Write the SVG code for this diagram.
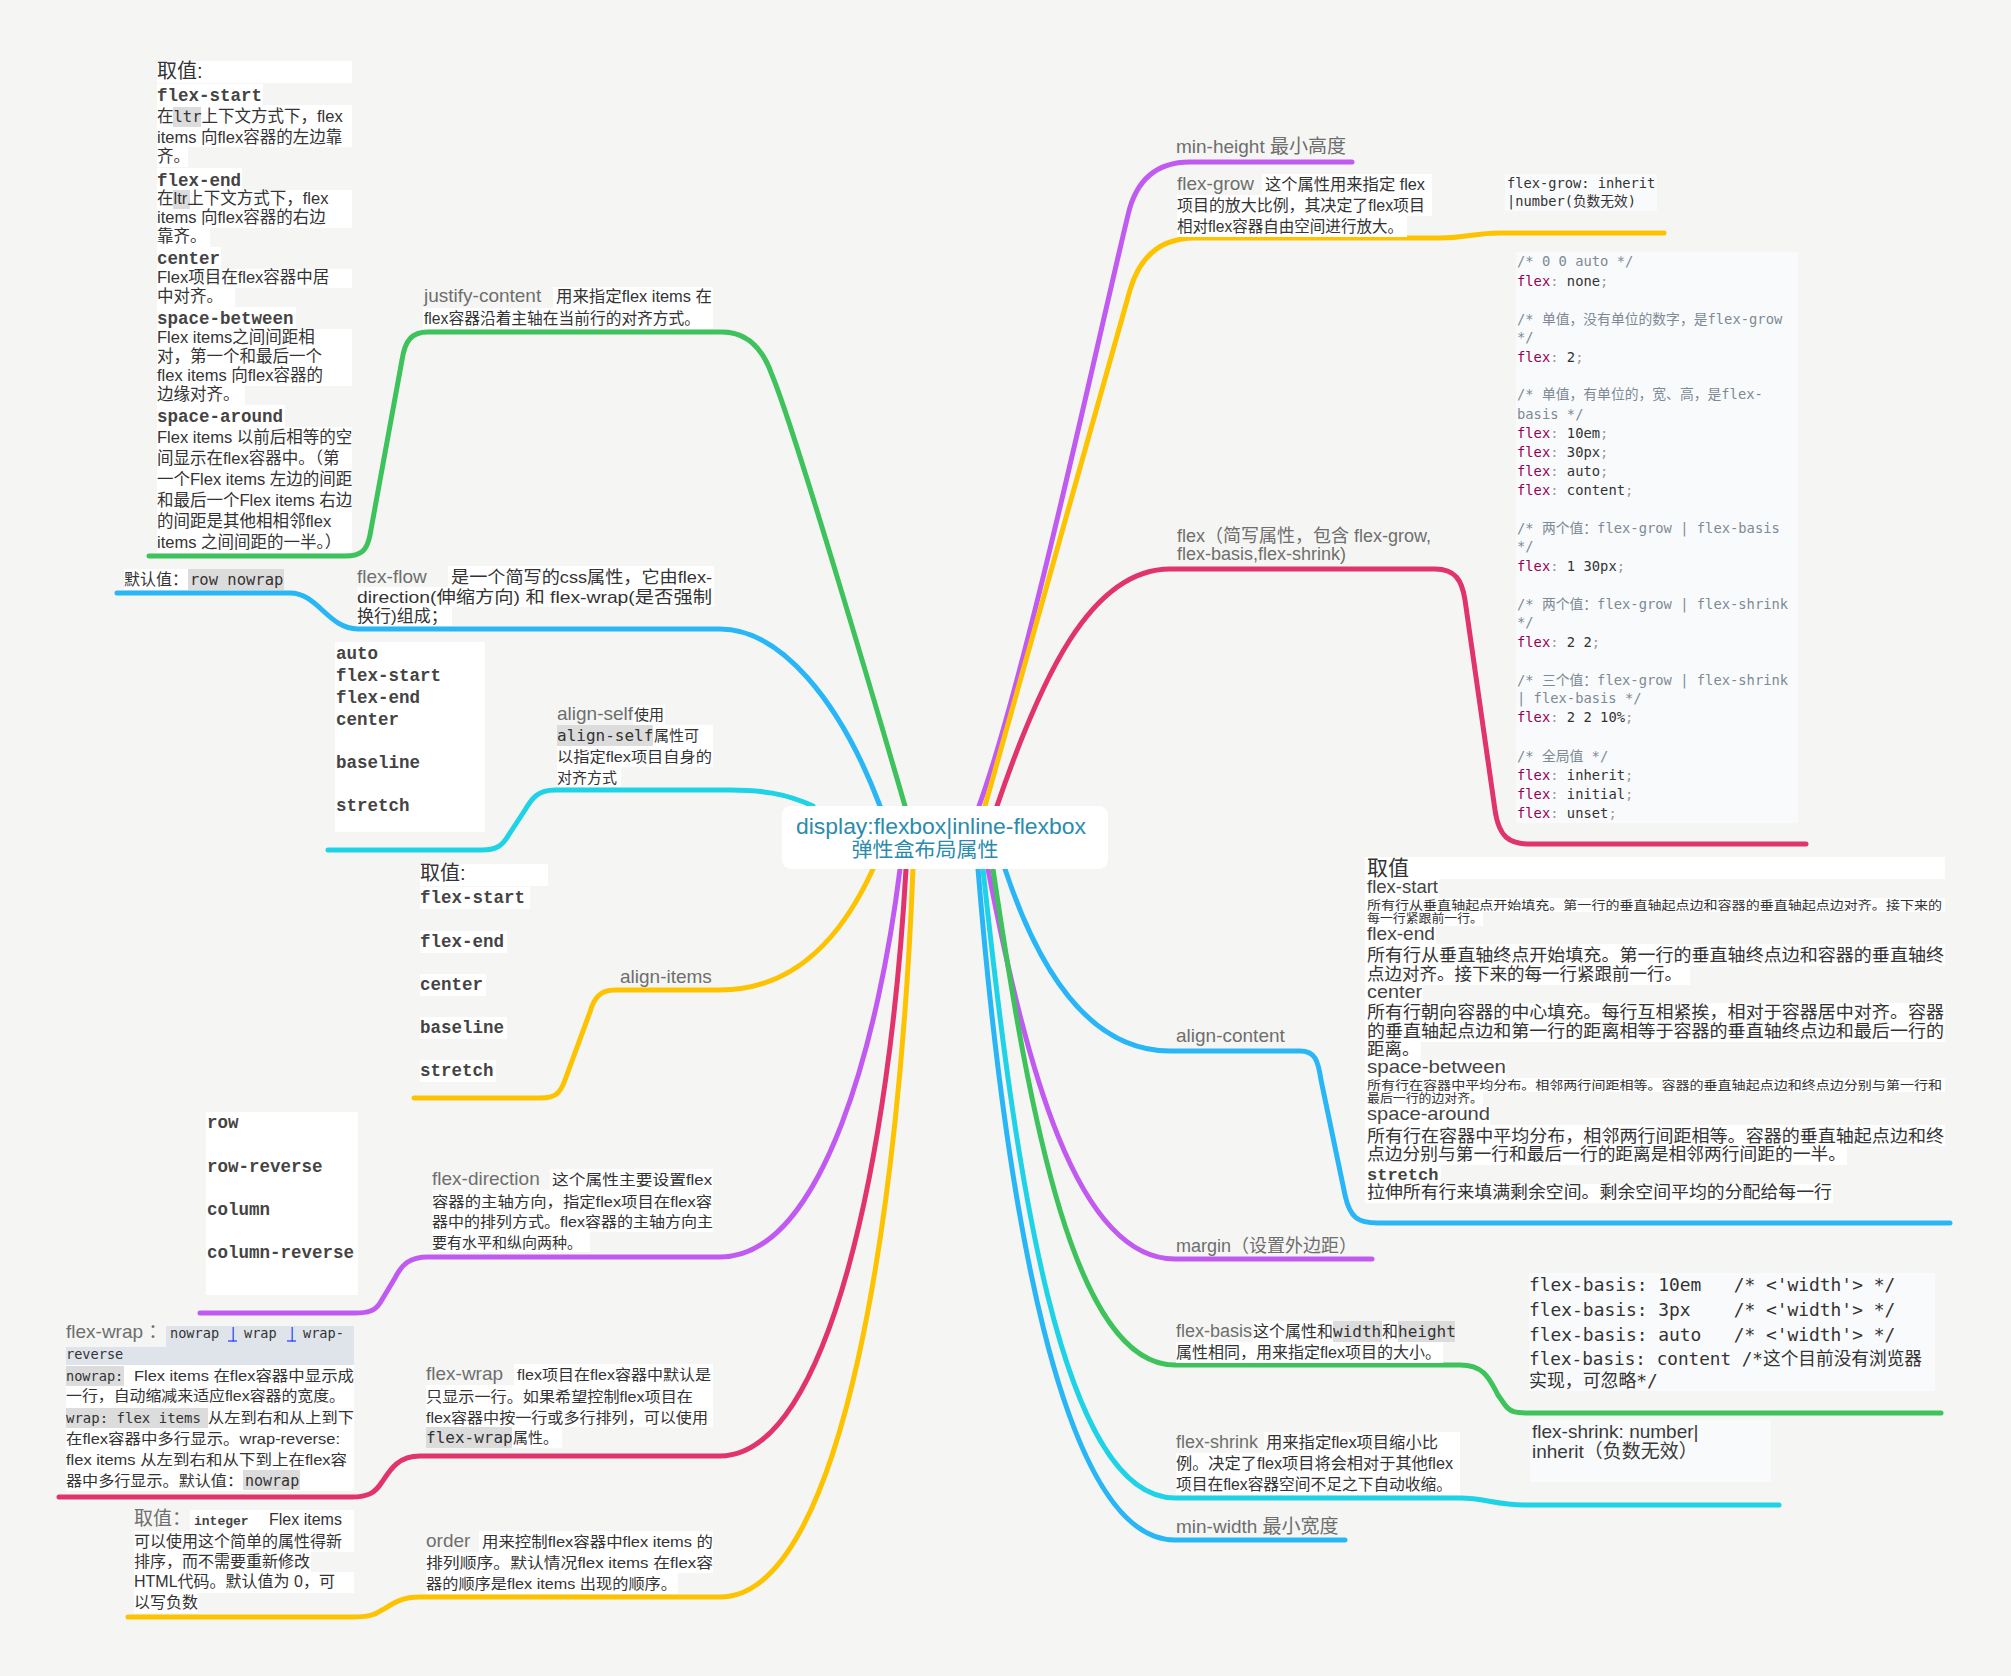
<svg xmlns="http://www.w3.org/2000/svg" width="2011" height="1676" viewBox="0 0 2011 1676">
<style>
text{font-family:"Liberation Sans","Noto Sans CJK SC",sans-serif}
.lb{font-size:19px;fill:#6e6e6e}
.t{font-size:16px;fill:#333}
.s15{font-size:15px}
.mo{font-family:"DejaVu Sans Mono","Noto Sans CJK SC",monospace;fill:#333}
.mb{font-family:"Liberation Mono","Courier New",monospace;font-weight:bold;font-size:17.5px;fill:#444}
.w{fill:#fff}
.g{fill:#dcdcdc}
.cb{fill:#f9fafb}
.kw{fill:#990055}
.cm{fill:#7d8a96}
.pu{fill:#999}
.ach{font-size:19px;fill:#444}
.acb{font-size:17.5px;fill:#333}
.acs{font-size:12.5px;fill:#333}
.c{fill:none;stroke-width:5;stroke-linecap:round;stroke-linejoin:round}
</style>
<rect width="2011" height="1676" fill="#f5f6f3"/>

<g id="connectors">
<path class="c" stroke="#3ec25c" d="M905 806 C880 720 795 430 772 375 Q757 332 722 332 L428 332 C412 332 405 340 402 360 L370 535 C367 550 362 556 345 556 L149 556"/>
<path class="c" stroke="#29b6f6" d="M880 806 C840 700 780 629 720 629 L358 629 C328 629 318 593 290 593 L117 593"/>
<path class="c" stroke="#1fd3e6" d="M813 806 C785 793 760 790 730 790 L555 790 C538 790 532 798 525 810 L508 836 C502 846 496 850 482 850 L328 850"/>
<path class="c" stroke="#fdc300" d="M873 869 C845 930 800 990 720 990 L615 990 C600 990 594 998 590 1012 L565 1080 C560 1094 555 1098 540 1098 L414 1098"/>
<path class="c" stroke="#c15af0" d="M900 869 C880 1030 825 1257 720 1257 L428 1257 C410 1257 402 1264 395 1278 L380 1303 C375 1311 368 1313 355 1313 L200 1313"/>
<path class="c" stroke="#e1336c" d="M906 869 C890 1150 830 1456 720 1456 L420 1456 C398 1456 390 1470 382 1482 C375 1493 368 1497 352 1497 L59 1497"/>
<path class="c" stroke="#fdc300" d="M913 869 C900 1200 845 1597 720 1597 L420 1597 C398 1597 390 1606 382 1610 C375 1615 368 1617 352 1617 L128 1617"/>
<path class="c" stroke="#c15af0" d="M979 806 C1025 680 1100 330 1128 215 Q1140 162 1190 162 L1352 162"/>
<path class="c" stroke="#fdc300" d="M985 806 C1020 680 1105 380 1130 290 Q1145 238 1195 238 L1440 238 C1465 238 1475 233 1500 233 L1664 233"/>
<path class="c" stroke="#e1336c" d="M997 806 C1040 680 1090 569 1170 569 L1435 569 C1455 569 1462 580 1465 600 L1495 810 C1499 838 1510 844 1530 844 L1806 844"/>
<path class="c" stroke="#29b6f6" d="M1005 869 C1035 960 1085 1051 1170 1051 L1300 1051 C1315 1051 1318 1060 1321 1080 L1345 1195 C1350 1218 1358 1223 1378 1223 L1950 1223"/>
<path class="c" stroke="#c15af0" d="M988 869 C1025 1060 1075 1259 1175 1259 L1372 1259"/>
<path class="c" stroke="#3ec25c" d="M993 869 C1030 1120 1075 1365 1175 1365 L1460 1365 C1485 1365 1490 1380 1498 1395 L1505 1405 C1510 1412 1515 1413 1530 1413 L1941 1413"/>
<path class="c" stroke="#1fd3e6" d="M983 869 C1015 1170 1060 1498 1175 1498 L1460 1498 C1485 1498 1495 1505 1525 1505 L1779 1505"/>
<path class="c" stroke="#29b6f6" d="M978 869 C1005 1200 1060 1540 1175 1540 L1345 1540"/>
</g>

<g id="center">
<rect x="782" y="806" width="326" height="63" rx="9" fill="#fff"/>
<text x="941" y="834" text-anchor="middle" font-size="22" fill="#2b8bad" textLength="290" lengthAdjust="spacingAndGlyphs">display:flexbox|inline-flexbox</text>
<text x="925" y="857" text-anchor="middle" font-size="20" fill="#2b8bad" textLength="147" lengthAdjust="spacingAndGlyphs">弹性盒布局属性</text>
</g>

<g id="jc-values">
<rect class="w" x="157" y="61" width="195" height="22"/>
<rect class="w" x="157" y="84" width="106" height="21"/>
<rect class="w" x="157" y="105" width="195" height="42"/>
<rect class="w" x="157" y="147" width="31" height="20"/>
<rect class="w" x="157" y="168" width="85" height="22"/>
<rect class="w" x="157" y="190" width="195" height="38"/>
<rect class="w" x="157" y="228" width="53" height="19"/>
<rect class="w" x="157" y="247" width="64" height="22"/>
<rect class="w" x="157" y="269" width="195" height="19"/>
<rect class="w" x="157" y="288" width="78" height="19"/>
<rect class="w" x="157" y="307" width="139" height="22"/>
<rect class="w" x="157" y="329" width="195" height="57"/>
<rect class="w" x="157" y="386" width="88" height="19"/>
<rect class="w" x="157" y="405" width="128" height="22"/>
<rect class="w" x="157" y="427" width="195" height="126"/>
<rect class="g" x="173" y="107" width="28" height="20"/>
<rect class="g" x="173" y="190" width="17" height="19"/>
<text class="t" x="157" y="78" style="font-size:20px">取值:</text>
<text class="mb" x="157" y="101">flex-start</text>
<text class="t" x="157" y="122" style="font-size:16.5px">在<tspan class="mo" style="font-size:15.5px">ltr</tspan>上下文方式下，flex</text>
<text class="t" x="157" y="143" style="font-size:16.5px">items 向flex容器的左边靠</text>
<text class="t" x="157" y="162" style="font-size:16.5px">齐。</text>
<text class="mb" x="157" y="186">flex-end</text>
<text class="t" x="157" y="204" style="font-size:16.5px">在ltr上下文方式下，flex</text>
<text class="t" x="157" y="223" style="font-size:16.5px">items 向flex容器的右边</text>
<text class="t" x="157" y="242" style="font-size:16.5px">靠齐。</text>
<text class="mb" x="157" y="264">center</text>
<text class="t" x="157" y="283" style="font-size:16.5px">Flex项目在flex容器中居</text>
<text class="t" x="157" y="302" style="font-size:16.5px">中对齐。</text>
<text class="mb" x="157" y="324">space-between</text>
<text class="t" x="157" y="343" style="font-size:16.5px">Flex items之间间距相</text>
<text class="t" x="157" y="362" style="font-size:16.5px">对，第一个和最后一个</text>
<text class="t" x="157" y="381" style="font-size:16.5px">flex items 向flex容器的</text>
<text class="t" x="157" y="400" style="font-size:16.5px">边缘对齐。</text>
<text class="mb" x="157" y="422">space-around</text>
<text class="t" x="157" y="443" style="font-size:16.5px">Flex items 以前后相等的空</text>
<text class="t" x="157" y="464" style="font-size:16.5px">间显示在flex容器中。（第</text>
<text class="t" x="157" y="485" style="font-size:16.5px">一个Flex items 左边的间距</text>
<text class="t" x="157" y="506" style="font-size:16.5px">和最后一个Flex items 右边</text>
<text class="t" x="157" y="527" style="font-size:16.5px">的间距是其他相相邻flex</text>
<text class="t" x="157" y="548" style="font-size:16.5px">items 之间间距的一半。）</text>
</g>

<g id="justify-content">
<rect class="w" x="553" y="287" width="160" height="21"/>
<rect class="w" x="423" y="308" width="290" height="21"/>
<text class="lb" x="424" y="302">justify-content</text>
<text class="t" x="556" y="302" textLength="156" lengthAdjust="spacingAndGlyphs">用来指定flex items 在</text>
<text class="t" x="424" y="324" textLength="276" lengthAdjust="spacingAndGlyphs">flex容器沿着主轴在当前行的对齐方式。</text>
</g>

<g id="flex-flow">
<rect class="w" x="448" y="566" width="266" height="21"/>
<rect class="w" x="357" y="587" width="357" height="20"/>
<rect class="w" x="357" y="607" width="95" height="19"/>
<text class="lb" x="357" y="583">flex-flow</text>
<text class="t" x="451" y="583" style="font-size:17px" textLength="261" lengthAdjust="spacingAndGlyphs">是一个简写的css属性，它由flex-</text>
<text class="t" x="357" y="603" style="font-size:17px" textLength="355" lengthAdjust="spacingAndGlyphs">direction(伸缩方向) 和 flex-wrap(是否强制</text>
<text class="t" x="357" y="622" style="font-size:17px">换行)组成；</text>
</g>

<g id="flex-flow-default">
<rect class="w" x="124" y="569" width="64" height="21"/>
<rect class="g" x="188" y="569" width="96" height="21"/>
<text class="t" x="124" y="585">默认值：</text>
<text class="mo" x="190" y="585" style="font-size:15.5px">row nowrap</text>
</g>

<g id="align-self">
<rect class="w" x="633" y="705" width="32" height="20"/>
<rect class="g" x="557" y="725" width="96" height="21"/>
<rect class="w" x="653" y="725" width="60" height="21"/>
<rect class="w" x="557" y="746" width="156" height="21"/>
<rect class="w" x="557" y="767" width="64" height="20"/>
<text class="lb" x="557" y="720">align-self</text>
<text class="t s15" x="634" y="720">使用</text>
<text class="mo" x="557" y="741" style="font-size:16px">align-self</text>
<text class="t s15" x="654" y="741">属性可</text>
<text class="t s15" x="557" y="762" textLength="155" lengthAdjust="spacingAndGlyphs">以指定flex项目自身的</text>
<text class="t s15" x="557" y="783">对齐方式</text>
</g>

<g id="align-self-values">
<rect class="w" x="335" y="642" width="150" height="190"/>
<text class="mb" x="336" y="659">auto</text>
<text class="mb" x="336" y="681">flex-start</text>
<text class="mb" x="336" y="703">flex-end</text>
<text class="mb" x="336" y="725">center</text>
<text class="mb" x="336" y="768">baseline</text>
<text class="mb" x="336" y="811">stretch</text>
</g>

<g id="align-items">
<text class="lb" x="620" y="983">align-items</text>
</g>

<g id="align-items-values">
<rect class="w" x="420" y="864" width="128" height="22"/>
<rect class="w" x="420" y="887" width="110" height="22"/>
<rect class="w" x="420" y="931" width="87" height="22"/>
<rect class="w" x="420" y="974" width="66" height="22"/>
<rect class="w" x="420" y="1017" width="87" height="22"/>
<rect class="w" x="420" y="1060" width="76" height="22"/>
<text class="t" x="420" y="880" style="font-size:20px">取值:</text>
<text class="mb" x="420" y="903">flex-start</text>
<text class="mb" x="420" y="947">flex-end</text>
<text class="mb" x="420" y="990">center</text>
<text class="mb" x="420" y="1033">baseline</text>
<text class="mb" x="420" y="1076">stretch</text>
</g>

<g id="flex-direction">
<rect class="w" x="550" y="1169" width="163" height="21"/>
<rect class="w" x="432" y="1190" width="281" height="42"/>
<rect class="w" x="432" y="1232" width="158" height="20"/>
<text class="lb" x="432" y="1185">flex-direction</text>
<text class="t s15" x="552" y="1185" textLength="160" lengthAdjust="spacingAndGlyphs">这个属性主要设置flex</text>
<text class="t s15" x="432" y="1207" textLength="280" lengthAdjust="spacingAndGlyphs">容器的主轴方向，指定flex项目在flex容</text>
<text class="t s15" x="432" y="1227" textLength="281" lengthAdjust="spacingAndGlyphs">器中的排列方式。flex容器的主轴方向主</text>
<text class="t s15" x="432" y="1248">要有水平和纵向两种。</text>
</g>

<g id="flex-direction-values">
<rect class="w" x="206" y="1112" width="152" height="183"/>
<text class="mb" x="207" y="1128">row</text>
<text class="mb" x="207" y="1172">row-reverse</text>
<text class="mb" x="207" y="1215">column</text>
<text class="mb" x="207" y="1258">column-reverse</text>
</g>

<g id="flex-wrap">
<rect class="w" x="514" y="1364" width="199" height="21"/>
<rect class="w" x="426" y="1385" width="287" height="42"/>
<rect class="g" x="426" y="1427" width="86" height="21"/>
<rect class="w" x="512" y="1427" width="50" height="21"/>
<text class="lb" x="426" y="1380">flex-wrap</text>
<text class="t s15" x="517" y="1380" textLength="194" lengthAdjust="spacingAndGlyphs">flex项目在flex容器中默认是</text>
<text class="t s15" x="426" y="1402" textLength="267" lengthAdjust="spacingAndGlyphs">只显示一行。如果希望控制flex项目在</text>
<text class="t s15" x="426" y="1423" textLength="282" lengthAdjust="spacingAndGlyphs">flex容器中按一行或多行排列，可以使用</text>
<text class="mo" x="426" y="1443" style="font-size:16px">flex-wrap</text>
<text class="t s15" x="513" y="1443">属性。</text>
</g>

<g id="flex-wrap-values">
<rect fill="#dfe3ea" x="166" y="1326" width="188" height="21"/>
<rect fill="#dfe3ea" x="66" y="1347" width="288" height="18"/>
<rect class="w" x="66" y="1365" width="288" height="126"/>
<rect class="g" x="66" y="1366" width="58" height="20"/>
<rect class="g" x="66" y="1408" width="142" height="20"/>
<rect class="g" x="243" y="1470" width="57" height="20"/>
<text class="lb" x="66" y="1338">flex-wrap ：</text>
<text class="mo" x="170" y="1338" style="font-size:13.6px">nowrap</text>
<text class="mo" x="229" y="1338" style="font-size:13.6px;fill:#1a3cff">|</text>
<line x1="228" y1="1341" x2="237" y2="1341" stroke="#1a3cff" stroke-width="1.2"/>
<text class="mo" x="244" y="1338" style="font-size:13.6px">wrap</text>
<text class="mo" x="288" y="1338" style="font-size:13.6px;fill:#1a3cff">|</text>
<line x1="287" y1="1341" x2="296" y2="1341" stroke="#1a3cff" stroke-width="1.2"/>
<text class="mo" x="303" y="1338" style="font-size:13.6px">wrap-</text>
<text class="mo" x="66" y="1359" style="font-size:13.6px">reverse</text>
<text class="mo" x="66" y="1381" style="font-size:13.6px">nowrap:</text>
<text class="t s15" x="134" y="1381" textLength="220" lengthAdjust="spacingAndGlyphs">Flex items 在flex容器中显示成</text>
<text class="t s15" x="66" y="1401" textLength="279" lengthAdjust="spacingAndGlyphs">一行，自动缩减来适应flex容器的宽度。</text>
<text class="mo" x="66" y="1423" style="font-size:14px">wrap: flex items</text>
<text class="t s15" x="208" y="1423" textLength="146" lengthAdjust="spacingAndGlyphs">从左到右和从上到下</text>
<text class="t s15" x="66" y="1444" textLength="274" lengthAdjust="spacingAndGlyphs">在flex容器中多行显示。wrap-reverse:</text>
<text class="t s15" x="66" y="1465" textLength="281" lengthAdjust="spacingAndGlyphs">flex items 从左到右和从下到上在flex容</text>
<text class="t s15" x="66" y="1486" textLength="177" lengthAdjust="spacingAndGlyphs">器中多行显示。默认值：</text>
<text class="mo" x="245" y="1486" style="font-size:15px">nowrap</text>
</g>

<g id="order">
<rect class="w" x="479" y="1531" width="234" height="21"/>
<rect class="w" x="426" y="1552" width="287" height="21"/>
<rect class="w" x="426" y="1573" width="252" height="21"/>
<text class="lb" x="426" y="1547">order</text>
<text class="t s15" x="482" y="1547" textLength="231" lengthAdjust="spacingAndGlyphs">用来控制flex容器中flex items 的</text>
<text class="t s15" x="426" y="1568" textLength="287" lengthAdjust="spacingAndGlyphs">排列顺序。默认情况flex items 在flex容</text>
<text class="t s15" x="426" y="1589" textLength="251" lengthAdjust="spacingAndGlyphs">器的顺序是flex items 出现的顺序。</text>
</g>

<g id="order-values">
<rect class="w" x="190" y="1510" width="164" height="21"/>
<rect class="w" x="134" y="1531" width="220" height="21"/>
<rect class="w" x="134" y="1552" width="177" height="20"/>
<rect class="w" x="134" y="1572" width="220" height="21"/>
<rect class="w" x="134" y="1593" width="64" height="20"/>
<text class="lb" x="134" y="1525">取值：</text>
<text class="mb" x="194" y="1525" style="font-size:13px">integer</text>
<text class="t" x="269" y="1525">Flex items</text>
<text class="t" x="134" y="1547">可以使用这个简单的属性得新</text>
<text class="t" x="134" y="1567">排序，而不需要重新修改</text>
<text class="t" x="134" y="1587">HTML代码。默认值为 0，可</text>
<text class="t" x="134" y="1608">以写负数</text>
</g>

<g id="min-height">
<text class="lb" x="1176" y="153">min-height 最小高度</text>
</g>

<g id="flex-grow">
<rect class="w" x="1262" y="174" width="170" height="21"/>
<rect class="w" x="1177" y="195" width="255" height="21"/>
<rect class="w" x="1177" y="216" width="230" height="21"/>
<text class="lb" x="1177" y="190">flex-grow</text>
<text class="t" x="1265" y="190" textLength="160" lengthAdjust="spacingAndGlyphs">这个属性用来指定 flex</text>
<text class="t" x="1177" y="211" textLength="248" lengthAdjust="spacingAndGlyphs">项目的放大比例，其决定了flex项目</text>
<text class="t" x="1177" y="232" textLength="226" lengthAdjust="spacingAndGlyphs">相对flex容器自由空间进行放大。</text>
</g>

<g id="flex-grow-values">
<rect class="cb" x="1505" y="174" width="152" height="37"/>
<text class="mo" x="1507" y="188" style="font-size:13.7px">flex-grow: inherit</text>
<text class="mo" x="1507" y="206" style="font-size:13.7px">|number(负数无效)</text>
</g>

<g id="flex">
<text class="lb" x="1177" y="542" style="font-size:18px">flex（简写属性，包含 flex-grow,</text>
<text class="lb" x="1177" y="560" style="font-size:18px">flex-basis,flex-shrink)</text>
</g>

<g id="flex-values" class="mo" style="font-size:13.8px">
<rect class="cb" x="1516" y="252" width="282" height="571"/>
<text class="mo cm" x="1517" y="266">/* 0 0 auto */</text>
<text class="mo" x="1517" y="286"><tspan class="kw">flex</tspan><tspan class="pu">:</tspan> none<tspan class="pu">;</tspan></text>
<text class="mo cm" x="1517" y="324">/* 单值，没有单位的数字，是flex-grow</text>
<text class="mo cm" x="1517" y="342">*/</text>
<text class="mo" x="1517" y="362"><tspan class="kw">flex</tspan><tspan class="pu">:</tspan> 2<tspan class="pu">;</tspan></text>
<text class="mo cm" x="1517" y="399">/* 单值，有单位的，宽、高，是flex-</text>
<text class="mo cm" x="1517" y="419">basis */</text>
<text class="mo" x="1517" y="438"><tspan class="kw">flex</tspan><tspan class="pu">:</tspan> 10em<tspan class="pu">;</tspan></text>
<text class="mo" x="1517" y="457"><tspan class="kw">flex</tspan><tspan class="pu">:</tspan> 30px<tspan class="pu">;</tspan></text>
<text class="mo" x="1517" y="476"><tspan class="kw">flex</tspan><tspan class="pu">:</tspan> auto<tspan class="pu">;</tspan></text>
<text class="mo" x="1517" y="495"><tspan class="kw">flex</tspan><tspan class="pu">:</tspan> content<tspan class="pu">;</tspan></text>
<text class="mo cm" x="1517" y="533">/* 两个值：flex-grow | flex-basis</text>
<text class="mo cm" x="1517" y="551">*/</text>
<text class="mo" x="1517" y="571"><tspan class="kw">flex</tspan><tspan class="pu">:</tspan> 1 30px<tspan class="pu">;</tspan></text>
<text class="mo cm" x="1517" y="609">/* 两个值：flex-grow | flex-shrink</text>
<text class="mo cm" x="1517" y="627">*/</text>
<text class="mo" x="1517" y="647"><tspan class="kw">flex</tspan><tspan class="pu">:</tspan> 2 2<tspan class="pu">;</tspan></text>
<text class="mo cm" x="1517" y="685">/* 三个值：flex-grow | flex-shrink</text>
<text class="mo cm" x="1517" y="703">| flex-basis */</text>
<text class="mo" x="1517" y="722"><tspan class="kw">flex</tspan><tspan class="pu">:</tspan> 2 2 10%<tspan class="pu">;</tspan></text>
<text class="mo cm" x="1517" y="761">/* 全局值 */</text>
<text class="mo" x="1517" y="780"><tspan class="kw">flex</tspan><tspan class="pu">:</tspan> inherit<tspan class="pu">;</tspan></text>
<text class="mo" x="1517" y="799"><tspan class="kw">flex</tspan><tspan class="pu">:</tspan> initial<tspan class="pu">;</tspan></text>
<text class="mo" x="1517" y="818"><tspan class="kw">flex</tspan><tspan class="pu">:</tspan> unset<tspan class="pu">;</tspan></text>
</g>

<g id="align-content">
<text class="lb" x="1176" y="1042">align-content</text>
</g>

<g id="align-content-values">
<rect class="w" x="1365" y="857" width="580" height="22"/>
<rect class="w" x="1365" y="879" width="74" height="19"/>
<rect class="w" x="1365" y="898" width="580" height="14"/>
<rect class="w" x="1365" y="912" width="118" height="14"/>
<rect class="w" x="1365" y="926" width="71" height="18"/>
<rect class="w" x="1365" y="944" width="580" height="22"/>
<rect class="w" x="1365" y="966" width="325" height="19"/>
<rect class="w" x="1365" y="985" width="58" height="18"/>
<rect class="w" x="1365" y="1003" width="580" height="39"/>
<rect class="w" x="1365" y="1042" width="56" height="18"/>
<rect class="w" x="1365" y="1060" width="141" height="18"/>
<rect class="w" x="1365" y="1078" width="580" height="14"/>
<rect class="w" x="1365" y="1092" width="118" height="14"/>
<rect class="w" x="1365" y="1106" width="125" height="19"/>
<rect class="w" x="1365" y="1125" width="580" height="21"/>
<rect class="w" x="1365" y="1146" width="482" height="19"/>
<rect class="w" x="1365" y="1165" width="76" height="19"/>
<rect class="w" x="1365" y="1184" width="468" height="19"/>
<text x="1367" y="875" style="font-size:21px;fill:#333">取值</text>
<text class="ach" x="1367" y="893" textLength="71" lengthAdjust="spacingAndGlyphs">flex-start</text>
<text class="acs" x="1367" y="910" textLength="575" lengthAdjust="spacingAndGlyphs">所有行从垂直轴起点开始填充。第一行的垂直轴起点边和容器的垂直轴起点边对齐。接下来的</text>
<text class="acs" x="1367" y="923" textLength="116" lengthAdjust="spacingAndGlyphs">每一行紧跟前一行。</text>
<text class="ach" x="1367" y="940" textLength="68" lengthAdjust="spacingAndGlyphs">flex-end</text>
<text class="acb" x="1367" y="961" textLength="577" lengthAdjust="spacingAndGlyphs">所有行从垂直轴终点开始填充。第一行的垂直轴终点边和容器的垂直轴终</text>
<text class="acb" x="1367" y="980">点边对齐。接下来的每一行紧跟前一行。</text>
<text class="ach" x="1367" y="998" textLength="55" lengthAdjust="spacingAndGlyphs">center</text>
<text class="acb" x="1367" y="1018" textLength="577" lengthAdjust="spacingAndGlyphs">所有行朝向容器的中心填充。每行互相紧挨，相对于容器居中对齐。容器</text>
<text class="acb" x="1367" y="1037" textLength="577" lengthAdjust="spacingAndGlyphs">的垂直轴起点边和第一行的距离相等于容器的垂直轴终点边和最后一行的</text>
<text class="acb" x="1367" y="1055">距离。</text>
<text class="ach" x="1367" y="1073" textLength="139" lengthAdjust="spacingAndGlyphs">space-between</text>
<text class="acs" x="1367" y="1090" textLength="575" lengthAdjust="spacingAndGlyphs">所有行在容器中平均分布。相邻两行间距相等。容器的垂直轴起点边和终点边分别与第一行和</text>
<text class="acs" x="1367" y="1103" textLength="116" lengthAdjust="spacingAndGlyphs">最后一行的边对齐。</text>
<text class="ach" x="1367" y="1120" textLength="123" lengthAdjust="spacingAndGlyphs">space-around</text>
<text class="acb" x="1367" y="1142" textLength="577" lengthAdjust="spacingAndGlyphs">所有行在容器中平均分布，相邻两行间距相等。容器的垂直轴起点边和终</text>
<text class="acb" x="1367" y="1160" textLength="479" lengthAdjust="spacingAndGlyphs">点边分别与第一行和最后一行的距离是相邻两行间距的一半。</text>
<text class="mb" x="1367" y="1180" style="font-size:17px">stretch</text>
<text class="acb" x="1367" y="1198" textLength="465" lengthAdjust="spacingAndGlyphs">拉伸所有行来填满剩余空间。剩余空间平均的分配给每一行</text>
</g>

<g id="margin">
<text class="lb" x="1176" y="1252" style="font-size:18px">margin（设置外边距）</text>
</g>

<g id="flex-basis">
<rect class="w" x="1253" y="1321" width="202" height="21"/>
<rect class="g" x="1333" y="1321" width="49" height="21"/>
<rect class="g" x="1398" y="1321" width="57" height="21"/>
<rect class="w" x="1176" y="1342" width="267" height="21"/>
<text class="lb" x="1176" y="1337" style="font-size:18px">flex-basis</text>
<text class="t" x="1253" y="1337">这个属性和</text>
<text class="mo" x="1333" y="1337" style="font-size:16px">width</text>
<text class="t" x="1382" y="1337">和</text>
<text class="mo" x="1398" y="1337" style="font-size:16px">height</text>
<text class="t" x="1176" y="1358" textLength="265" lengthAdjust="spacingAndGlyphs">属性相同，用来指定flex项目的大小。</text>
</g>

<g id="flex-basis-values">
<rect class="cb" x="1529" y="1273" width="406" height="118"/>
<text class="mo" x="1529" y="1291" style="font-size:17.9px;white-space:pre">flex-basis: 10em   /* &lt;'width'&gt; */</text>
<text class="mo" x="1529" y="1316" style="font-size:17.9px;white-space:pre">flex-basis: 3px    /* &lt;'width'&gt; */</text>
<text class="mo" x="1529" y="1341" style="font-size:17.9px;white-space:pre">flex-basis: auto   /* &lt;'width'&gt; */</text>
<text class="mo" x="1529" y="1365" style="font-size:17.9px;white-space:pre" textLength="393" lengthAdjust="spacingAndGlyphs">flex-basis: content /*这个目前没有浏览器</text>
<text class="mo" x="1529" y="1387" style="font-size:17.9px">实现，可忽略*/</text>
</g>

<g id="flex-shrink">
<rect class="w" x="1264" y="1432" width="196" height="21"/>
<rect class="w" x="1176" y="1453" width="284" height="42"/>
<text class="lb" x="1176" y="1448" style="font-size:18px">flex-shrink</text>
<text class="t" x="1266" y="1448" textLength="172" lengthAdjust="spacingAndGlyphs">用来指定flex项目缩小比</text>
<text class="t" x="1176" y="1469" textLength="277" lengthAdjust="spacingAndGlyphs">例。决定了flex项目将会相对于其他flex</text>
<text class="t" x="1176" y="1490" textLength="276" lengthAdjust="spacingAndGlyphs">项目在flex容器空间不足之下自动收缩。</text>
</g>

<g id="flex-shrink-values">
<rect class="cb" x="1530" y="1420" width="241" height="62"/>
<text x="1532" y="1438" style="font-size:19px;fill:#3a3a3a">flex-shrink: number|</text>
<text x="1532" y="1458" style="font-size:19px;fill:#3a3a3a">inherit（负数无效）</text>
</g>

<g id="min-width">
<text class="lb" x="1176" y="1533">min-width 最小宽度</text>
</g>
</svg>
